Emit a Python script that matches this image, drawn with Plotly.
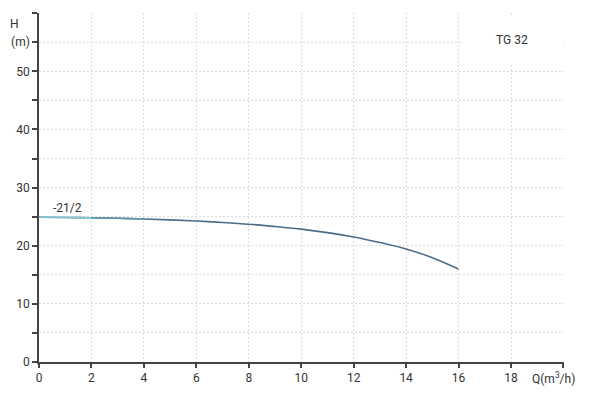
import plotly.graph_objects as go

# Data
flow = [0, 1, 2, 3, 4, 5, 6, 7, 8, 9, 10, 11, 12, 13, 14, 15, 16]
head = [24.9, 24.85, 24.8, 24.72, 24.6, 24.45, 24.25, 24.0, 23.7, 23.3, 22.85, 22.25, 21.5, 20.55, 19.45, 17.95, 16.0]
curve_label = "-21/2"
model = "TG 32"
x_ticks = [0, 2, 4, 6, 8, 10, 12, 14, 16, 18]
x_labels = ["0", "2", "4", "6", "8", "10", "12", "14", "16", "18"]
x_minor = [20]
y_ticks = [0, 10, 20, 30, 40, 50, 55]
y_labels = ["0", "10", "20", "30", "40", "50", "(m)"]
y_minor = [5, 15, 25, 35, 45, 60]

FONT = "Roboto"
TXT = "#333333"
GRID = "#dcdcdc"
AX = "#444444"

fig = go.Figure()
# main curve (dark slate)
fig.add_trace(go.Scatter(
    x=flow, y=head, mode="lines",
    line=dict(color="#4d6c88", width=1.6, shape="spline", smoothing=1.0),
    hoverinfo="skip", showlegend=False))
# lighter start of the curve (gradient look)
fig.add_trace(go.Scatter(
    x=flow[2:5], y=head[2:5], mode="lines",
    line=dict(color="#6296ad", width=1.6, shape="spline"),
    hoverinfo="skip", showlegend=False))
fig.add_trace(go.Scatter(
    x=flow[0:3], y=head[0:3], mode="lines",
    line=dict(color="#7cc8d8", width=1.6, shape="spline"),
    hoverinfo="skip", showlegend=False))

grid_common = dict(showgrid=True, gridcolor=GRID, griddash="2px,2px", gridwidth=1)
fig.update_layout(
    width=598, height=398,
    margin=dict(l=39, r=34, t=13, b=36),
    paper_bgcolor="white", plot_bgcolor="white",
    font=dict(family=FONT, size=12, color=TXT),
    showlegend=False,
    xaxis=dict(
        range=[0, 20.02], tickmode="array", tickvals=x_ticks, ticktext=x_labels,
        showline=True, linecolor=AX, linewidth=1.5,
        ticks="outside", ticklen=4, tickcolor=AX, tickwidth=1.5,
        minor=dict(tickmode="array", tickvals=x_minor, ticks="outside", ticklen=4,
                   tickcolor=AX, tickwidth=1.5, **grid_common),
        zeroline=False, fixedrange=True,
        tickfont=dict(family=FONT, size=12, color=TXT),
        **grid_common,
    ),
    yaxis=dict(
        range=[0, 60.03], tickmode="array", tickvals=y_ticks, ticktext=y_labels,
        showline=True, linecolor=AX, linewidth=1.5,
        ticks="outside", ticklen=5, tickcolor=AX, tickwidth=1.5,
        minor=dict(tickmode="array", tickvals=y_minor, ticks="outside", ticklen=5,
                   tickcolor=AX, tickwidth=1.5, **grid_common),
        zeroline=False, fixedrange=True,
        tickfont=dict(family=FONT, size=12, color=TXT),
        **grid_common,
    ),
)

fig.add_annotation(x=-0.046, xref="paper", y=(398 - 36 - 24) / 349, yref="paper",
                   text="H", showarrow=False, xanchor="center", yanchor="middle",
                   font=dict(family=FONT, size=12, color=TXT))
fig.add_annotation(x=(553.5 - 39) / 525, xref="paper", y=-(378 - 362) / 349, yref="paper",
                   text="Q(m<sup>3</sup>/h)", showarrow=False,
                   xanchor="center", yanchor="middle",
                   font=dict(family=FONT, size=12, color=TXT))
fig.add_annotation(x=1.07, y=26.5, text=curve_label, showarrow=False,
                   xanchor="center", yanchor="middle",
                   font=dict(family=FONT, size=12, color=TXT))
fig.add_annotation(x=18.05, y=55.5, text=model, showarrow=False,
                   xanchor="center", yanchor="middle", width=100, height=47,
                   bgcolor="white", borderpad=0,
                   font=dict(family=FONT, size=12, color=TXT))

fig.write_html("out.html")
